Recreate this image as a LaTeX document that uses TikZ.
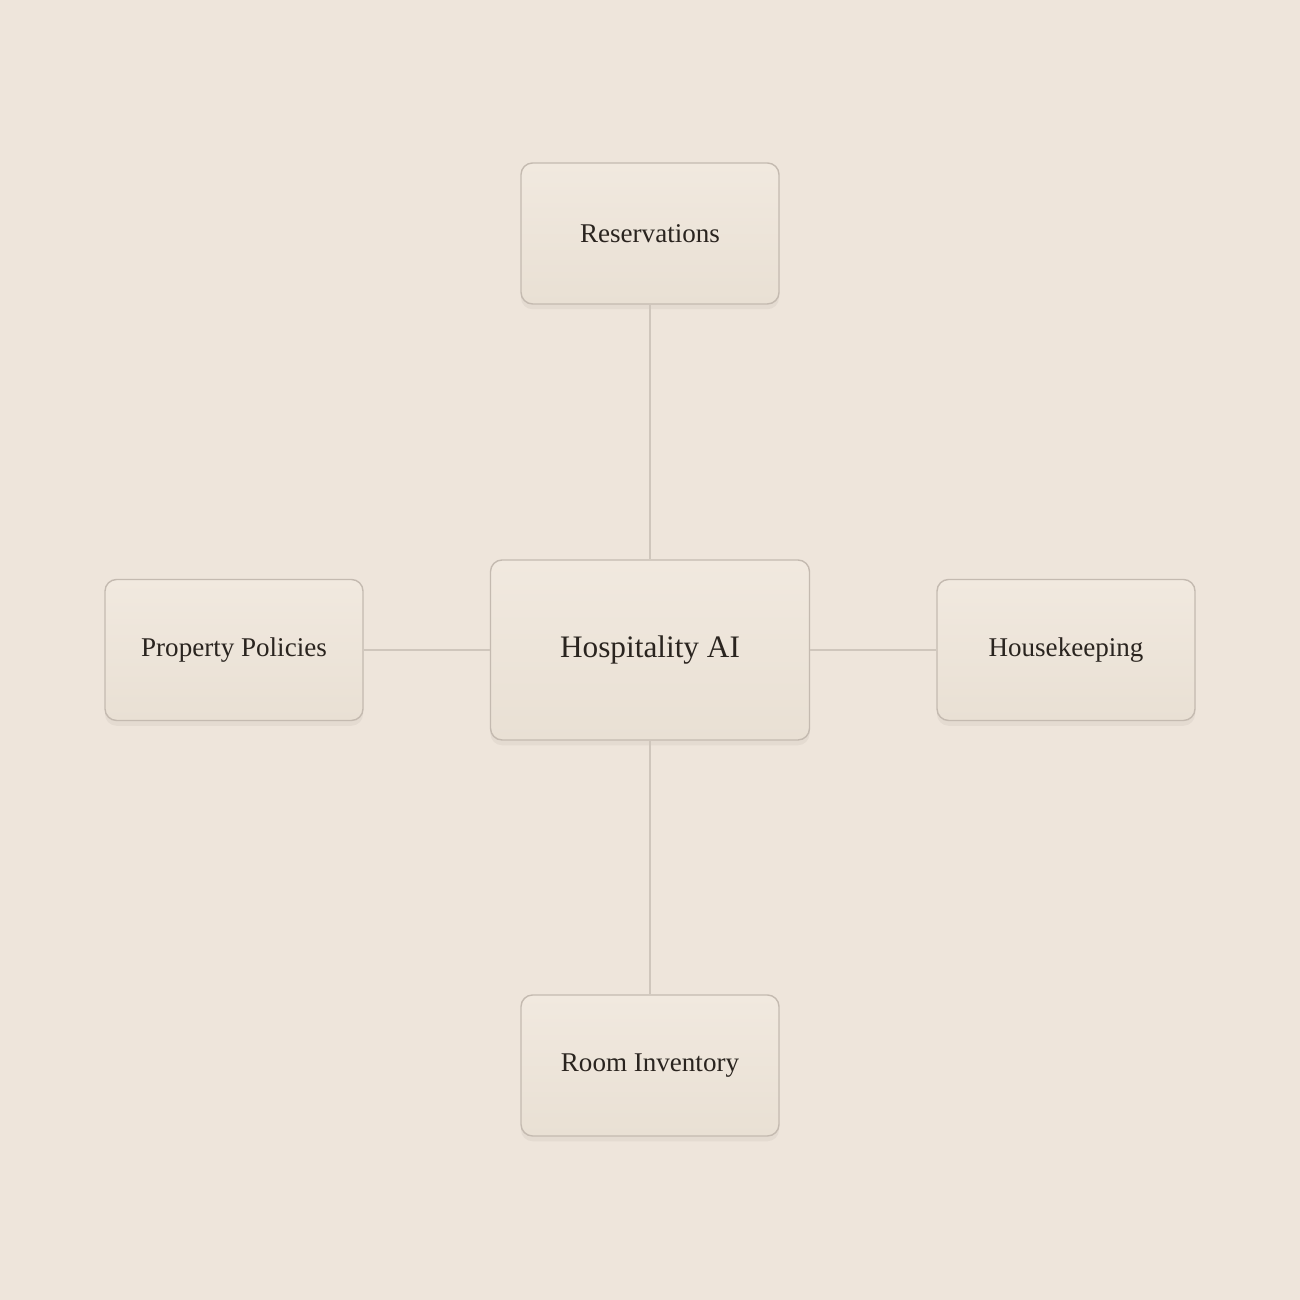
\documentclass[tikz,border=0pt]{standalone}
\usepackage{fontspec}
\setmainfont{Liberation Serif}
\usetikzlibrary{shadows}
\definecolor{paper}{HTML}{EEE5DB}
\definecolor{cardtop}{HTML}{F1E9DF}
\definecolor{cardbot}{HTML}{E9E0D4}
\definecolor{cardline}{HTML}{C4BAB0}
\definecolor{link}{HTML}{CFC6BC}
\definecolor{ink}{HTML}{2A241F}
\tikzset{
  card/.style={draw=cardline, line width=0.4pt, rounded corners=3.3pt,
    top color=cardtop, bottom color=cardbot, text=ink,
    minimum width=2.58cm, minimum height=1.41cm, inner sep=0pt,
    font=\fontsize{7.7}{9}\selectfont,
    drop shadow={shadow xshift=0pt, shadow yshift=-1.5pt, opacity=0.05, fill=ink}},
  hub/.style={card, minimum width=3.19cm, minimum height=1.80cm,
    font=\fontsize{8.9}{10.5}\selectfont},
  link/.style={draw=link, line width=0.35pt}
}
\begin{document}
\begin{tikzpicture}
      \fill[paper] (0,0) rectangle (13,13);
      \useasboundingbox (0,0) rectangle (13,13);
      \node[hub] (ai) at (6.5,6.5) {Hospitality AI};
      \node[card] (res) at (6.5,10.665) {Reservations};
      \node[card] (pol) at (2.34,6.5) {Property Policies};
      \node[card] (hk) at (10.66,6.5) {Housekeeping};
      \node[card] (room) at (6.5,2.345) {Room Inventory};
      \draw[link] (res.south) -- (ai.north);
      \draw[link] (room.north) -- (ai.south);
      \draw[link] (pol.east) -- (ai.west);
      \draw[link] (hk.west) -- (ai.east);
\end{tikzpicture}
\end{document}
